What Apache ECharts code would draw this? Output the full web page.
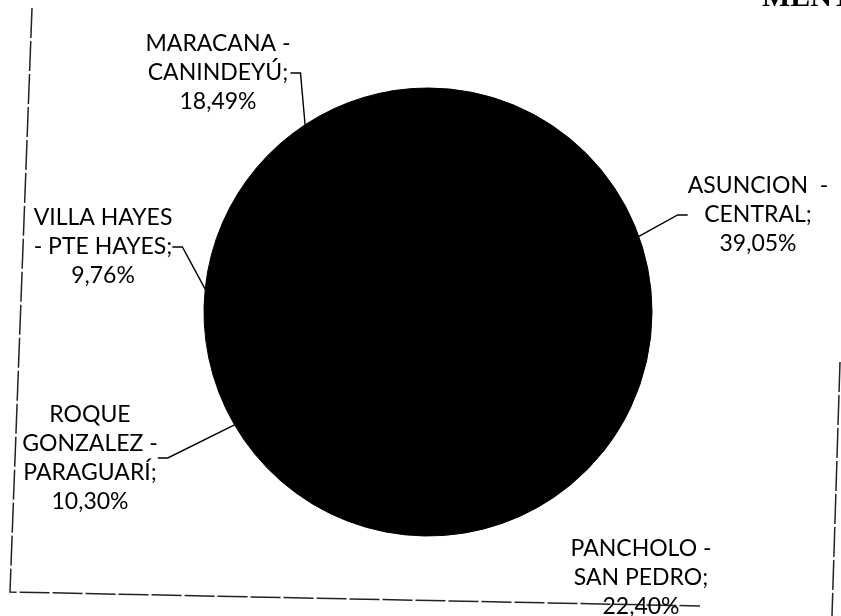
<!DOCTYPE html>
<html>
<head>
<meta charset="utf-8">
<title>Pie</title>
<script src="https://cdn.jsdelivr.net/npm/echarts@6/dist/echarts.min.js"></script>
<style>
    html, body { margin: 0; padding: 0; background: #fff; }
    #chart { width: 841px; height: 616px; }
</style>
</head>
<body>
<div id="chart"></div>
<script>
// datos (porcentaje por localidad)
var categories = ['ASUNCION - CENTRAL', 'PANCHOLO - SAN PEDRO', 'ROQUE GONZALEZ - PARAGUARÍ', 'VILLA HAYES - PTE HAYES', 'MARACANA - CANINDEYÚ'];
var values = [39.05, 22.40, 10.30, 9.76, 18.49];
// nombre partido en renglones como en la etiqueta
var nameLines = [
    ['ASUNCION  -', 'CENTRAL;'],
    ['PANCHOLO -', 'SAN PEDRO;'],
    ['ROQUE', 'GONZALEZ -', 'PARAGUARÍ;'],
    ['VILLA HAYES', '- PTE HAYES;'],
    ['MARACANA -', 'CANINDEYÚ;']
];

// posicion de cada etiqueta (centro del bloque de texto)
var labelPos = [[758, 215], [641, 578], [90, 458], [103, 247], [218, 73]];

function pct(v) {
    return v.toFixed(2).replace('.', ',') + '%';
}

var myChart = echarts.init(document.getElementById('chart'));

var data = [];
for (var i = 0; i < categories.length; i++) {
    var item = { name: categories[i], value: values[i] };
    if (i === 1) item.labelLine = { show: false };
    data.push(item);
}

var option = {
    backgroundColor: '#fff',
    animation: false,
    graphic: [{
        type: 'polyline',
        shape: { points: [[32, 8], [10, 592], [700, 606]] },
        style: { stroke: '#222', lineWidth: 1.5, fill: null, lineDash: [30, 3] },
        silent: true
    }, {
        type: 'line',
        shape: { x1: 840, y1: 362, x2: 832, y2: 616 },
        style: { stroke: '#222', lineWidth: 1.5, lineDash: [30, 3] },
        silent: true
    }, {
        type: 'text',
        left: 762,
        top: -17,
        style: { text: 'MENTO', fill: '#000', font: 'bold 30px "Liberation Serif"' },
        silent: true
    }],
    series: [{
        type: 'pie',
        center: [428, 312],
        radius: 224,
        startAngle: 90,
        clockwise: true,
        silent: true,
        itemStyle: {
            color: '#000',
            borderColor: '#000',
            borderWidth: 1
        },
        label: {
            show: true,
            position: 'outside',
            color: '#000',
            fontFamily: 'Lato',
            fontSize: 23,
            lineHeight: 29,
            align: 'center',
            formatter: function (params) {
                return nameLines[params.dataIndex].concat([pct(params.value)]).join('\n');
            }
        },
        labelLine: {
            show: true,
            length: 10,
            length2: 10,
            lineStyle: { color: '#000', width: 1.4 }
        },
        labelLayout: function (params) {
            var p = labelPos[params.dataIndex];
            return {
                x: p[0],
                y: p[1],
                align: 'center',
                verticalAlign: 'middle'
            };
        },
        data: data
    }]
};
myChart.setOption(option, true);
</script>
</body>
</html>
